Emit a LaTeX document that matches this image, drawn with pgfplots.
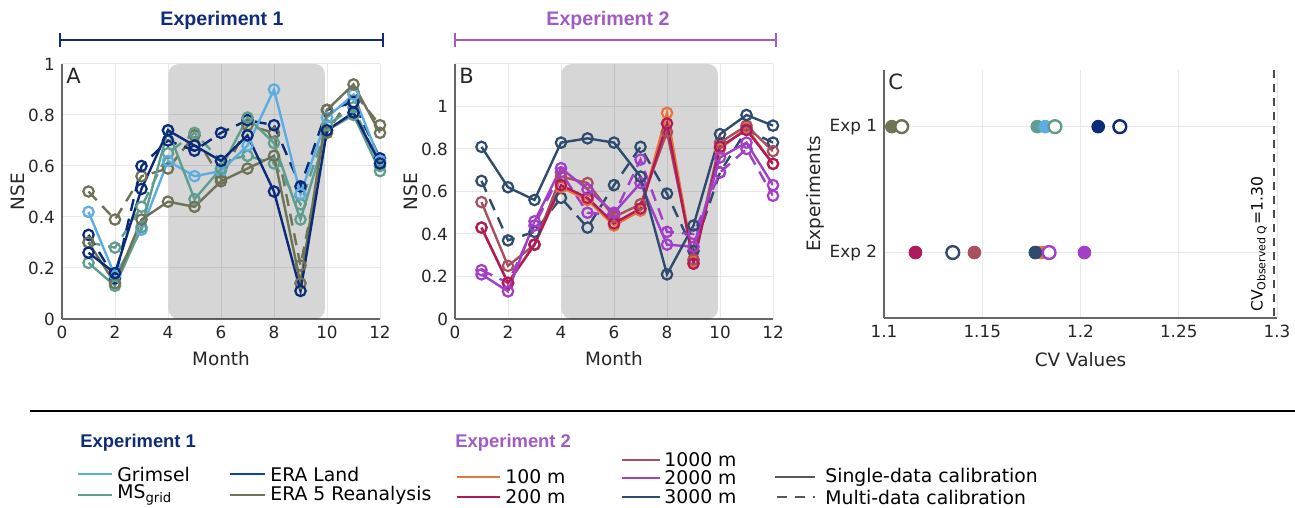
\documentclass[border=0pt]{standalone}
\usepackage{pgfplots}
\pgfplotsset{compat=1.18}
\usepackage{fontspec}
\setmainfont{DejaVu Sans}
\newfontfamily\arialfont{Liberation Sans}
\definecolor{grimsel}{HTML}{5DADE2}
\definecolor{msgrid}{HTML}{5F9E8F}
\definecolor{eraland}{HTML}{0B2A78}
\definecolor{eralandleg}{HTML}{1040B0}
\definecolor{era5}{HTML}{6E7256}
\definecolor{cA}{HTML}{E8743B}
\definecolor{cB}{HTML}{B0195A}
\definecolor{cC}{HTML}{A8505E}
\definecolor{cD}{HTML}{A23EC8}
\definecolor{cE}{HTML}{2F4B6E}
\definecolor{expone}{HTML}{0E2C7A}
\definecolor{exptwo}{HTML}{A05BC4}
\definecolor{txt}{HTML}{262626}
\pgfplotsset{
  base/.style={scale only axis, axis x line*=bottom, axis y line*=left,
    axis line style={draw=black!60, line width=0.6pt, -},
    grid=major, grid style={black!9, line width=0.5pt},
    tick style={draw=none},
    label style={font=\fontsize{9.2}{10}\selectfont, text=txt},
    /pgf/number format/assume math mode=true},
  nse/.style={base, width=159pt, height=127.5pt, xmin=0, xmax=12, ymin=0,
    xtick={0,2,...,12},
    ticklabel style={font=\fontsize{8.4}{9}\selectfont, text=txt},
    xlabel=Month, ylabel=NSE,
    xlabel style={at={(axis description cs:0.5,-0.157)}, anchor=center},
    ylabel style={at={(axis description cs:-0.138,0.5)}, anchor=center},
    every axis plot/.append style={line width=1.2pt, mark=o, mark size=2.6pt,
      mark options={solid, line width=1.1pt}}},
  dsh/.style={dash pattern=on 6pt off 4pt},
}
\begin{document}
\begin{tikzpicture}
\useasboundingbox (0,0) rectangle (647.5pt,254pt);
% headers
\draw[expone, line width=1pt] (30pt,234pt) -- (191.5pt,234pt);
\draw[expone, line width=1pt] (30pt,230.5pt) -- (30pt,237.5pt);
\draw[expone, line width=1pt] (191.5pt,230.5pt) -- (191.5pt,237.5pt);
\node[expone, font=\arialfont\bfseries\fontsize{9.8}{10}\selectfont] at (111pt,244pt) {Experiment 1};
\draw[exptwo, line width=1pt] (227.5pt,234pt) -- (388pt,234pt);
\draw[exptwo, line width=1pt] (227.5pt,230.5pt) -- (227.5pt,237.5pt);
\draw[exptwo, line width=1pt] (388pt,230.5pt) -- (388pt,237.5pt);
\node[exptwo, font=\arialfont\bfseries\fontsize{9.8}{10}\selectfont] at (304pt,244pt) {Experiment 2};

% Panel A
\begin{axis}[nse, at={(31pt,94.5pt)}, anchor=south west, ymax=1,
  ytick={0,0.2,0.4,0.6,0.8,1}]
\fill[black, opacity=0.16, rounded corners=5pt] (axis cs:4.02,0) rectangle (axis cs:9.92,1);
\addplot[era5, dsh] coordinates {(1,0.50)(2,0.39)(3,0.56)(4,0.59)(5,0.72)(6,0.55)(7,0.76)(8,0.73)(9,0.21)(10,0.73)(11,0.89)(12,0.76)};
\addplot[msgrid, dsh] coordinates {(1,0.30)(2,0.28)(3,0.44)(4,0.65)(5,0.73)(6,0.62)(7,0.64)(8,0.61)(9,0.45)(10,0.76)(11,0.83)(12,0.60)};
\addplot[eraland, dsh] coordinates {(1,0.33)(2,0.16)(3,0.60)(4,0.70)(5,0.66)(6,0.73)(7,0.78)(8,0.76)(9,0.52)(10,0.82)(11,0.85)(12,0.63)};
\addplot[grimsel] coordinates {(1,0.42)(2,0.17)(3,0.35)(4,0.62)(5,0.56)(6,0.58)(7,0.68)(8,0.90)(9,0.49)(10,0.79)(11,0.88)(12,0.62)};
\addplot[msgrid] coordinates {(1,0.22)(2,0.13)(3,0.36)(4,0.74)(5,0.47)(6,0.59)(7,0.79)(8,0.69)(9,0.39)(10,0.74)(11,0.80)(12,0.58)};
\addplot[era5] coordinates {(1,0.30)(2,0.14)(3,0.39)(4,0.46)(5,0.44)(6,0.54)(7,0.59)(8,0.64)(9,0.14)(10,0.82)(11,0.92)(12,0.73)};
\addplot[eraland] coordinates {(1,0.26)(2,0.18)(3,0.51)(4,0.74)(5,0.68)(6,0.62)(7,0.72)(8,0.50)(9,0.11)(10,0.74)(11,0.81)(12,0.61)};
\node[anchor=north west, text=txt, inner sep=2pt, font=\fontsize{10.5}{11}\selectfont] at (rel axis cs:0,1) {A};
\end{axis}

% Panel B
\begin{axis}[nse, at={(227.5pt,94.5pt)}, anchor=south west, ymax=1.2,
  ytick={0,0.2,0.4,0.6,0.8,1,1.2}, yticklabels={0,0.2,0.4,0.6,0.8,1,}]
\fill[black, opacity=0.16, rounded corners=5pt] (axis cs:4.02,0) rectangle (axis cs:9.92,1.2);
\addplot[cE, dsh] coordinates {(1,0.65)(2,0.37)(3,0.41)(4,0.57)(5,0.43)(6,0.63)(7,0.81)(8,0.59)(9,0.32)(10,0.69)(11,0.89)(12,0.83)};
\addplot[cD, dsh] coordinates {(1,0.23)(2,0.17)(3,0.44)(4,0.69)(5,0.50)(6,0.49)(7,0.75)(8,0.41)(9,0.40)(10,0.69)(11,0.80)(12,0.58)};
\addplot[cA] coordinates {(1,0.43)(2,0.17)(3,0.35)(4,0.62)(5,0.56)(6,0.44)(7,0.51)(8,0.97)(9,0.27)(10,0.80)(11,0.90)(12,0.73)};
\addplot[cC] coordinates {(1,0.55)(2,0.25)(3,0.35)(4,0.67)(5,0.64)(6,0.48)(7,0.54)(8,0.88)(9,0.28)(10,0.83)(11,0.91)(12,0.79)};
\addplot[cB] coordinates {(1,0.43)(2,0.17)(3,0.35)(4,0.63)(5,0.57)(6,0.45)(7,0.52)(8,0.92)(9,0.26)(10,0.81)(11,0.89)(12,0.73)};
\addplot[cD] coordinates {(1,0.21)(2,0.13)(3,0.46)(4,0.71)(5,0.61)(6,0.50)(7,0.64)(8,0.35)(9,0.34)(10,0.76)(11,0.83)(12,0.63)};
\addplot[cE] coordinates {(1,0.81)(2,0.62)(3,0.56)(4,0.83)(5,0.85)(6,0.83)(7,0.67)(8,0.21)(9,0.44)(10,0.87)(11,0.96)(12,0.91)};
\node[anchor=north west, text=txt, inner sep=2pt, font=\fontsize{10.5}{11}\selectfont] at (rel axis cs:0,1) {B};
\end{axis}

% Panel C
\begin{axis}[base, at={(442pt,95pt)}, anchor=south west, width=196.5pt, height=124pt,
  xmin=1.1, xmax=1.3, ymin=0.55, ymax=2.52, y dir=reverse,
  xtick={1.1,1.15,1.2,1.25,1.3}, xticklabels={1.1,1.15,1.2,1.25,1.3},
  ytick={1,2}, yticklabels={Exp 1,Exp 2},
  ticklabel style={font=\fontsize{8.4}{9}\selectfont, text=txt},
  xlabel={CV Values}, ylabel={Experiments},
  xlabel style={at={(axis description cs:0.5,-0.169)}, anchor=center},
  ylabel style={at={(axis description cs:-0.175,0.5)}, anchor=center},
  every axis plot/.append style={only marks, mark=*, mark size=3.2pt},
  clip=false]
\draw[black!70, line width=1.2pt, dash pattern=on 4pt off 3pt] (axis cs:1.2985,0.55) -- (axis cs:1.2985,2.52);
\addplot[era5, mark options={fill=era5, draw=era5}] coordinates {(1.104,1)};
\addplot[era5, mark options={fill=white, draw=era5, line width=1.2pt}] coordinates {(1.109,1)};
\addplot[msgrid, mark options={fill=msgrid, draw=msgrid}] coordinates {(1.178,1)};
\addplot[grimsel, mark options={fill=grimsel, draw=grimsel}] coordinates {(1.182,1)};
\addplot[msgrid, mark options={fill=white, draw=msgrid, line width=1.2pt}] coordinates {(1.187,1)};
\addplot[eraland, mark options={fill=eraland, draw=eraland}] coordinates {(1.209,1)};
\addplot[eraland, mark options={fill=white, draw=eraland, line width=1.2pt}] coordinates {(1.220,1)};
\addplot[cB, mark options={fill=cB, draw=cB}] coordinates {(1.116,2)};
\addplot[cE, mark options={fill=white, draw=cE, line width=1.2pt}] coordinates {(1.135,2)};
\addplot[cC, mark options={fill=cC, draw=cC}] coordinates {(1.146,2)};
\addplot[cA, mark options={fill=cA, draw=cA}] coordinates {(1.180,2)};
\addplot[cE, mark options={fill=cE, draw=cE}] coordinates {(1.177,2)};
\addplot[cD, mark options={fill=white, draw=cD, line width=1.2pt}] coordinates {(1.184,2)};
\addplot[cD, mark options={fill=cD, draw=cD}] coordinates {(1.202,2)};
\node[rotate=90, anchor=south west, text=black, inner sep=1pt, font=\fontsize{7.8}{8}\selectfont] at (axis cs:1.296,2.49) {CV\textsubscript{Observed Q}=1.30};
\node[anchor=north west, text=txt, inner sep=2pt, font=\fontsize{10.5}{11}\selectfont] at (rel axis cs:0,1) {C};
\end{axis}

% separator
\draw[black, line width=1pt] (15pt,48.5pt) -- (647.5pt,48.5pt);

% legend
\begin{scope}[font=\fontsize{9.4}{10}\selectfont, every node/.style={text=black, inner sep=0pt}]
\node[anchor=west, expone, font=\arialfont\bfseries\fontsize{9.2}{10}\selectfont] at (40pt,32.5pt) {Experiment 1};
\draw[grimsel, line width=1.3pt] (39pt,17pt) -- (56pt,17pt);
\node[anchor=west] at (58.5pt,17pt) {Grimsel};
\draw[msgrid, line width=1.3pt] (39pt,6.5pt) -- (56pt,6.5pt);
\node[anchor=west] at (58.5pt,6.5pt) {MS\textsubscript{grid}};
\draw[eralandleg, line width=1.3pt] (115pt,17pt) -- (132.5pt,17pt);
\node[anchor=west] at (135pt,17pt) {ERA Land};
\draw[era5, line width=1.3pt] (115pt,6.5pt) -- (132.5pt,6.5pt);
\node[anchor=west] at (135pt,6.5pt) {ERA 5 Reanalysis};
\node[anchor=west, exptwo, font=\arialfont\bfseries\fontsize{9.2}{10}\selectfont] at (227.5pt,32.5pt) {Experiment 2};
\draw[cA, line width=1.3pt] (228.5pt,15.5pt) -- (250pt,15.5pt);
\node[anchor=west] at (252.5pt,15.5pt) {100 m};
\draw[cB, line width=1.3pt] (228.5pt,5.5pt) -- (250pt,5.5pt);
\node[anchor=west] at (252.5pt,5.5pt) {200 m};
\draw[cC, line width=1.3pt] (311pt,24pt) -- (330pt,24pt);
\node[anchor=west] at (332pt,24pt) {1000 m};
\draw[cD, line width=1.3pt] (311pt,15pt) -- (330pt,15pt);
\node[anchor=west] at (332pt,15pt) {2000 m};
\draw[cE, line width=1.3pt] (311pt,5.5pt) -- (330pt,5.5pt);
\node[anchor=west] at (332pt,5.5pt) {3000 m};
\draw[black!65, line width=1.3pt] (387.5pt,15.5pt) -- (407.5pt,15.5pt);
\node[anchor=west] at (412.5pt,15.5pt) {Single-data calibration};
\draw[black!65, line width=1.3pt, dash pattern=on 5pt off 4pt] (388.5pt,5.5pt) -- (407.5pt,5.5pt);
\node[anchor=west] at (412.5pt,5.5pt) {Multi-data calibration};
\end{scope}
\end{tikzpicture}
\end{document}
